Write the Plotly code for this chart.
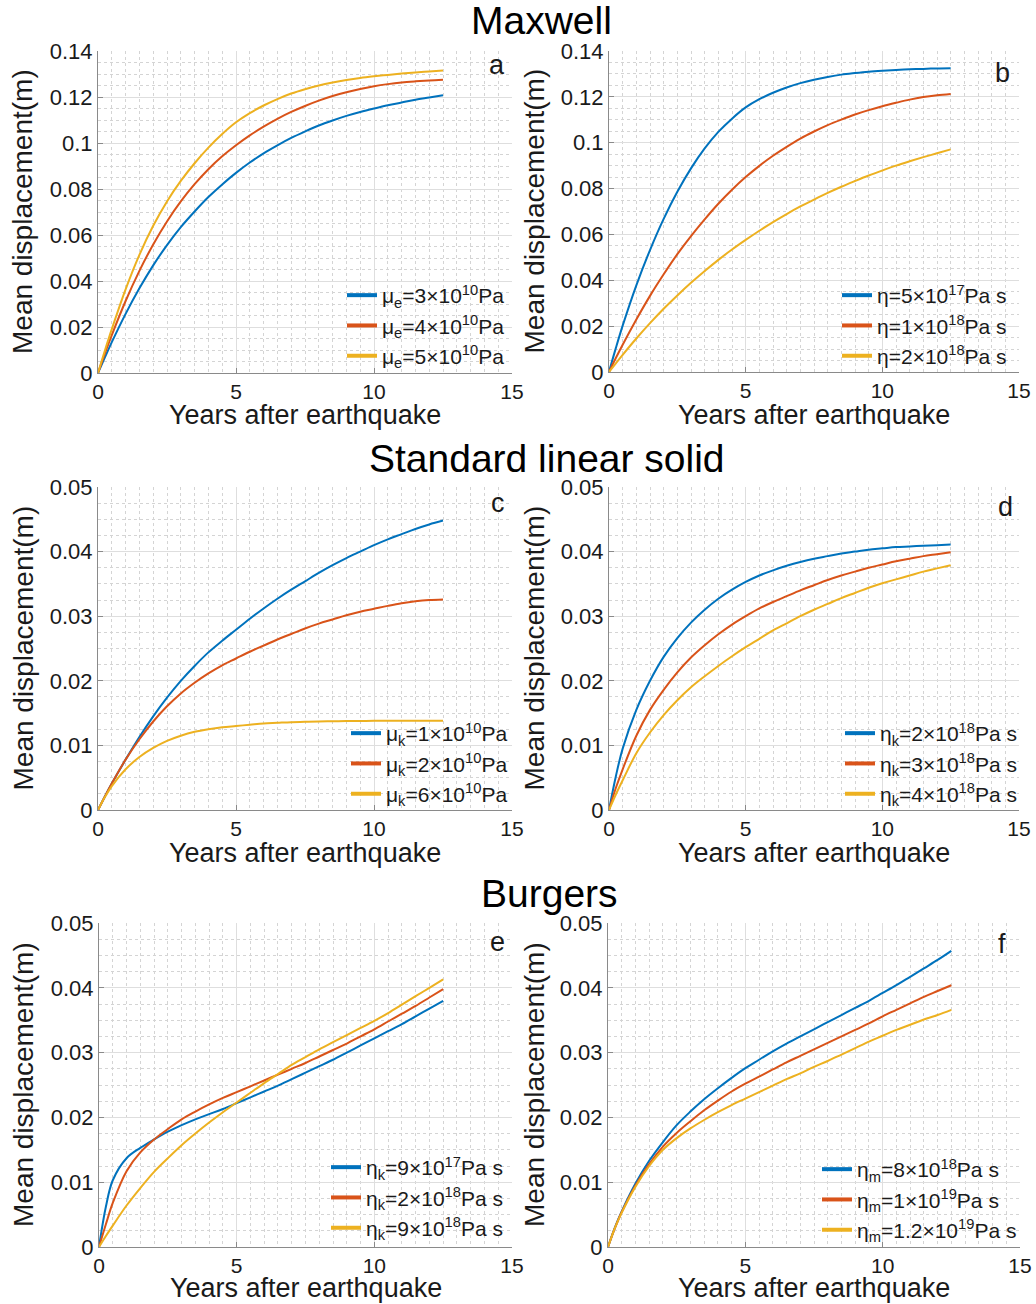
import plotly.graph_objects as go

# ---------------------------------------------------------------- data
years = [0, 0.25, 0.5, 1, 1.5, 2, 2.5, 3, 3.5, 4, 4.5, 5, 5.5, 6, 6.5,
         7, 7.5, 8, 8.5, 9, 9.5, 10, 10.5, 11, 11.5, 12, 12.5]

# Maxwell, varying elastic shear modulus
a_blue = [0, 0.0068, 0.0134, 0.0257, 0.0368, 0.0468, 0.0556, 0.0634, 0.0702, 0.0765, 0.0820, 0.0870, 0.0915, 0.0955,
          0.0990, 0.1022, 0.1050, 0.1076, 0.1098, 0.1118, 0.1135, 0.1150, 0.1164, 0.1176, 0.1188, 0.1198, 0.1208]
a_red = [0, 0.0085, 0.0165, 0.0313, 0.0444, 0.0559, 0.0659, 0.0746, 0.0821, 0.0886, 0.0942, 0.0990, 0.1033, 0.1071,
         0.1105, 0.1135, 0.1161, 0.1184, 0.1204, 0.1221, 0.1235, 0.1247, 0.1256, 0.1263, 0.1268, 0.1272, 0.1275]
a_yellow = [0, 0.0098, 0.0191, 0.0364, 0.0514, 0.0640, 0.0746, 0.0835, 0.0912, 0.0980, 0.1039, 0.1090, 0.1130, 0.1163,
            0.1191, 0.1215, 0.1234, 0.1250, 0.1263, 0.1274, 0.1283, 0.1290, 0.1296, 0.1302, 0.1307, 0.1311, 0.1315]

# Maxwell, varying viscosity
b_blue = [0, 0.0104, 0.0202, 0.0378, 0.0532, 0.0668, 0.0786, 0.0888, 0.0975, 0.1047, 0.1105, 0.1154, 0.1190, 0.1218,
          0.1241, 0.1260, 0.1275, 0.1287, 0.1297, 0.1304, 0.1310, 0.1314, 0.1317, 0.1320, 0.1322, 0.1324, 0.1325]
b_red = [0, 0.0061, 0.0119, 0.0229, 0.0332, 0.0426, 0.0514, 0.0593, 0.0666, 0.0734, 0.0795, 0.0850, 0.0899, 0.0943,
         0.0982, 0.1018, 0.1049, 0.1077, 0.1101, 0.1123, 0.1142, 0.1159, 0.1174, 0.1188, 0.1199, 0.1207, 0.1213]
b_yellow = [0, 0.0038, 0.0075, 0.0146, 0.0213, 0.0276, 0.0334, 0.0389, 0.0440, 0.0489, 0.0534, 0.0576, 0.0616, 0.0654,
            0.0689, 0.0722, 0.0752, 0.0781, 0.0808, 0.0833, 0.0857, 0.0879, 0.0900, 0.0919, 0.0937, 0.0954, 0.0971]

# Standard linear solid, varying Kelvin shear modulus
c_blue = [0, 0.0021, 0.0041, 0.0078, 0.0113, 0.0145, 0.0174, 0.0200, 0.0223, 0.0244, 0.0262, 0.0279, 0.0296, 0.0312,
          0.0327, 0.0341, 0.0354, 0.0367, 0.0379, 0.0390, 0.0400, 0.0410, 0.0419, 0.0427, 0.0435, 0.0442, 0.0448]
c_red = [0, 0.0021, 0.0041, 0.0078, 0.01095, 0.0137, 0.01605, 0.01805, 0.0197, 0.02115, 0.0224, 0.02345, 0.0245, 0.02545,
         0.0264, 0.02725, 0.0281, 0.02885, 0.0295, 0.03015, 0.0307, 0.03115, 0.0316, 0.0320, 0.0323, 0.0325, 0.0326]
c_yellow = [0, 0.0020, 0.0037, 0.0063, 0.0082, 0.0096, 0.0107, 0.0115, 0.0121, 0.0125, 0.0128, 0.0130, 0.0132, 0.0134,
            0.0135, 0.0136, 0.01365, 0.0137, 0.01373, 0.01376, 0.01378, 0.0138, 0.0138, 0.0138, 0.0138, 0.0138, 0.0138]

# Standard linear solid, varying Kelvin viscosity
d_blue = [0, 0.0052, 0.0095, 0.0155, 0.0200, 0.0237, 0.0266, 0.0290, 0.0310, 0.0327, 0.0341, 0.0353, 0.0363, 0.0371,
          0.0378, 0.0384, 0.0389, 0.0393, 0.0397, 0.0400, 0.0403, 0.0405, 0.0407, 0.0408, 0.0409, 0.0410, 0.0411]
d_red = [0, 0.0034, 0.0063, 0.0115, 0.0155, 0.0186, 0.0213, 0.0236, 0.0255, 0.0272, 0.0287, 0.0300, 0.0312, 0.0322,
         0.0331, 0.0340, 0.0348, 0.0356, 0.0363, 0.0369, 0.0375, 0.0380, 0.0385, 0.0389, 0.0393, 0.0396, 0.0399]
d_yellow = [0, 0.0024, 0.0046, 0.0088, 0.0120, 0.0147, 0.0170, 0.0190, 0.0207, 0.0223, 0.0238, 0.0252, 0.0265, 0.0278,
            0.0289, 0.0300, 0.0310, 0.0319, 0.0328, 0.0336, 0.0344, 0.0351, 0.0357, 0.0363, 0.0369, 0.0374, 0.0379]

# Burgers, varying Kelvin viscosity
e_blue = [0, 0.0062, 0.0103, 0.0137, 0.0153, 0.0166, 0.0178, 0.0188, 0.0197, 0.0205, 0.0213, 0.0222, 0.0231, 0.0240,
          0.0249, 0.0259, 0.0269, 0.0279, 0.0289, 0.0300, 0.0311, 0.0322, 0.0333, 0.0344, 0.0356, 0.0368, 0.0380]
e_red = [0, 0.0035, 0.0068, 0.0117, 0.0146, 0.0166, 0.0182, 0.0197, 0.0209, 0.0220, 0.0230, 0.0239, 0.0248, 0.0257,
         0.0266, 0.0275, 0.0284, 0.0294, 0.0304, 0.0314, 0.0325, 0.0336, 0.0348, 0.0360, 0.0372, 0.0385, 0.0398]
e_yellow = [0, 0.0017, 0.0033, 0.0064, 0.0091, 0.0116, 0.0137, 0.0157, 0.0175, 0.0192, 0.0208, 0.0223, 0.0238, 0.0253,
            0.0267, 0.0281, 0.0293, 0.0305, 0.0316, 0.0327, 0.0338, 0.0349, 0.0361, 0.0374, 0.0387, 0.0400, 0.0413]

# Burgers, varying Maxwell viscosity
f_blue = [0, 0.0030, 0.0055, 0.0098, 0.0133, 0.0162, 0.0188, 0.0209, 0.0228, 0.0245, 0.0261, 0.0276, 0.0289, 0.0302,
          0.0314, 0.0325, 0.0336, 0.0347, 0.0358, 0.0369, 0.0380, 0.0392, 0.0404, 0.0417, 0.0430, 0.0443, 0.0457]
f_red = [0, 0.0029, 0.0054, 0.0095, 0.0128, 0.0155, 0.0176, 0.0194, 0.0211, 0.0226, 0.0240, 0.0252, 0.0263, 0.0274,
         0.0285, 0.0295, 0.0305, 0.0315, 0.0325, 0.0335, 0.0345, 0.0356, 0.0366, 0.0376, 0.0386, 0.0395, 0.0404]
f_yellow = [0, 0.0029, 0.0053, 0.0093, 0.0125, 0.0150, 0.0168, 0.0183, 0.0196, 0.0208, 0.0219, 0.0229, 0.0239, 0.0249,
            0.0259, 0.0268, 0.0278, 0.0287, 0.0297, 0.0307, 0.0317, 0.0326, 0.0335, 0.0343, 0.0351, 0.0358, 0.0366]

a_labels = ["μ<sub>e</sub>=3×10<sup>10</sup>Pa", "μ<sub>e</sub>=4×10<sup>10</sup>Pa", "μ<sub>e</sub>=5×10<sup>10</sup>Pa"]
b_labels = ["η=5×10<sup>17</sup>Pa s", "η=1×10<sup>18</sup>Pa s", "η=2×10<sup>18</sup>Pa s"]
c_labels = ["μ<sub>k</sub>=1×10<sup>10</sup>Pa", "μ<sub>k</sub>=2×10<sup>10</sup>Pa", "μ<sub>k</sub>=6×10<sup>10</sup>Pa"]
d_labels = ["η<sub>k</sub>=2×10<sup>18</sup>Pa s", "η<sub>k</sub>=3×10<sup>18</sup>Pa s", "η<sub>k</sub>=4×10<sup>18</sup>Pa s"]
e_labels = ["η<sub>k</sub>=9×10<sup>17</sup>Pa s", "η<sub>k</sub>=2×10<sup>18</sup>Pa s", "η<sub>k</sub>=9×10<sup>18</sup>Pa s"]
f_labels = ["η<sub>m</sub>=8×10<sup>18</sup>Pa s", "η<sub>m</sub>=1×10<sup>19</sup>Pa s", "η<sub>m</sub>=1.2×10<sup>19</sup>Pa s"]

panel_letters = ["a", "b", "c", "d", "e", "f"]
section_titles = ["Maxwell", "Standard linear solid", "Burgers"]

x_ticks = [0, 5, 10, 15]
y_ticks_maxwell = [0, 0.02, 0.04, 0.06, 0.08, 0.1, 0.12, 0.14]
y_ticks_small = [0, 0.01, 0.02, 0.03, 0.04, 0.05]

x_title = "Years after earthquake"
y_title = "Mean displacement(m)"

# ---------------------------------------------------------------- styling
W, H = 1036, 1304
COLORS = ["#0072BD", "#D95319", "#EDB120"]
FONT = "Liberation Sans, Arial, Helvetica, sans-serif"
TXT = "#1a1a1a"

# plot areas in pixels: (left, right, top, bottom)
boxes = [
    (98, 512, 51, 373), (609, 1019, 51, 372),
    (98, 512, 487, 810), (609, 1019, 487, 810),
    (99, 512, 923, 1247), (608, 1020, 923, 1247),
]
# panel letter: right edge px, vertical centre px
letter_pos = [(507, 65), (1012, 73), (507, 503), (1015, 507), (507, 942), (1008, 944)]
# legend: right edge px, bottom edge px
legend_pos = [(510, 376), (1012, 376), (513, 814), (1022, 814), (508, 1248), (1022, 1250)]
# axis titles: x-title centre y px, y-title centre x px
x_title_y = [415, 853, 1288]
y_title_x = [23, 534]

panels = [
    ([a_blue, a_red, a_yellow], a_labels, y_ticks_maxwell, 0.005),
    ([b_blue, b_red, b_yellow], b_labels, y_ticks_maxwell, 0.005),
    ([c_blue, c_red, c_yellow], c_labels, y_ticks_small, 0.0025),
    ([d_blue, d_red, d_yellow], d_labels, y_ticks_small, 0.0025),
    ([e_blue, e_red, e_yellow], e_labels, y_ticks_small, 0.0025),
    ([f_blue, f_red, f_yellow], f_labels, y_ticks_small, 0.0025),
]

fig = go.Figure()
layout = dict(
    width=W, height=H,
    margin=dict(l=0, r=0, t=0, b=0),
    paper_bgcolor="white", plot_bgcolor="white",
    font=dict(family=FONT, color=TXT),
    showlegend=True,
    annotations=[],
)

for i, (series, labels, yticks, yminor) in enumerate(panels):
    n = i + 1
    suffix = "" if n == 1 else str(n)
    xa, ya = "x" + suffix, "y" + suffix
    leg = "legend" + suffix
    left, right, top, bottom = boxes[i]

    for vals, col in zip(series, COLORS):
        fig.add_trace(go.Scatter(
            x=years, y=vals, mode="lines", xaxis=xa, yaxis=ya,
            line=dict(color=col, width=2, shape="spline", smoothing=1.0),
            showlegend=False, hoverinfo="skip",
        ))
    # legend keys drawn with thicker lines
    for lab, col in zip(labels, COLORS):
        fig.add_trace(go.Scatter(
            x=[None], y=[None], mode="lines", xaxis=xa, yaxis=ya,
            name=lab, legend=leg,
            line=dict(color=col, width=4),
        ))

    axis_common = dict(
        showgrid=True, gridcolor="#dedede", gridwidth=1,
        zeroline=False, showline=True, linecolor="#8a8a8a", linewidth=1,
        ticks="inside", ticklen=5, tickcolor="#8a8a8a",
        tickfont=dict(size=22, color=TXT, family=FONT),
        mirror=False, automargin=False,
    )
    layout["xaxis" + suffix] = dict(
        axis_common,
        domain=[left / W, right / W], anchor=ya,
        range=[0, 15], tickvals=x_ticks,
        tickfont=dict(size=21, color=TXT, family=FONT),
        minor=dict(dtick=0.5, tick0=0, showgrid=True, gridcolor="#d4d4d4",
                   griddash="dot", gridwidth=1, ticks=""),
    )
    layout["yaxis" + suffix] = dict(
        axis_common,
        domain=[1 - bottom / H, 1 - top / H], anchor=xa,
        range=[0, yticks[-1]], tickvals=yticks,
        minor=dict(dtick=yminor, tick0=0, showgrid=True, gridcolor="#d4d4d4",
                   griddash="dot", gridwidth=1, ticks=""),
    )

    # axis titles
    layout["annotations"].append(dict(
        text=x_title, xref="paper", yref="paper",
        x=(left + right) / 2 / W, y=1 - x_title_y[i // 2] / H,
        xanchor="center", yanchor="middle", showarrow=False,
        font=dict(size=27, color=TXT, family=FONT),
    ))
    layout["annotations"].append(dict(
        text=y_title, xref="paper", yref="paper", textangle=-90,
        x=y_title_x[i % 2] / W, y=1 - (top + bottom) / 2 / H,
        xanchor="center", yanchor="middle", showarrow=False,
        font=dict(size=28, color=TXT, family=FONT),
    ))

    lx, ly = letter_pos[i]
    layout["annotations"].append(dict(
        text=panel_letters[i], xref="paper", yref="paper",
        x=lx / W, y=1 - ly / H, xanchor="right", yanchor="middle",
        showarrow=False, font=dict(size=27, color=TXT, family=FONT),
    ))

    gx, gy = legend_pos[i]
    layout[leg] = dict(
        x=gx / W, y=1 - gy / H, xanchor="right", yanchor="bottom",
        xref="paper", yref="paper",
        bgcolor="rgba(0,0,0,0)", borderwidth=0,
        font=dict(size=21, color=TXT, family=FONT),
        itemwidth=30, tracegroupgap=0,
    )

title_pos = [(541, 20), (547, 458), (549, 893)]
for t, (tx, ty) in zip(section_titles, title_pos):
    layout["annotations"].append(dict(
        text=t, xref="paper", yref="paper", x=tx / W, y=1 - ty / H,
        xanchor="center", yanchor="middle", showarrow=False,
        font=dict(size=39, color="#000000", family=FONT),
    ))

fig.update_layout(**layout)
fig.write_html("out.html")
